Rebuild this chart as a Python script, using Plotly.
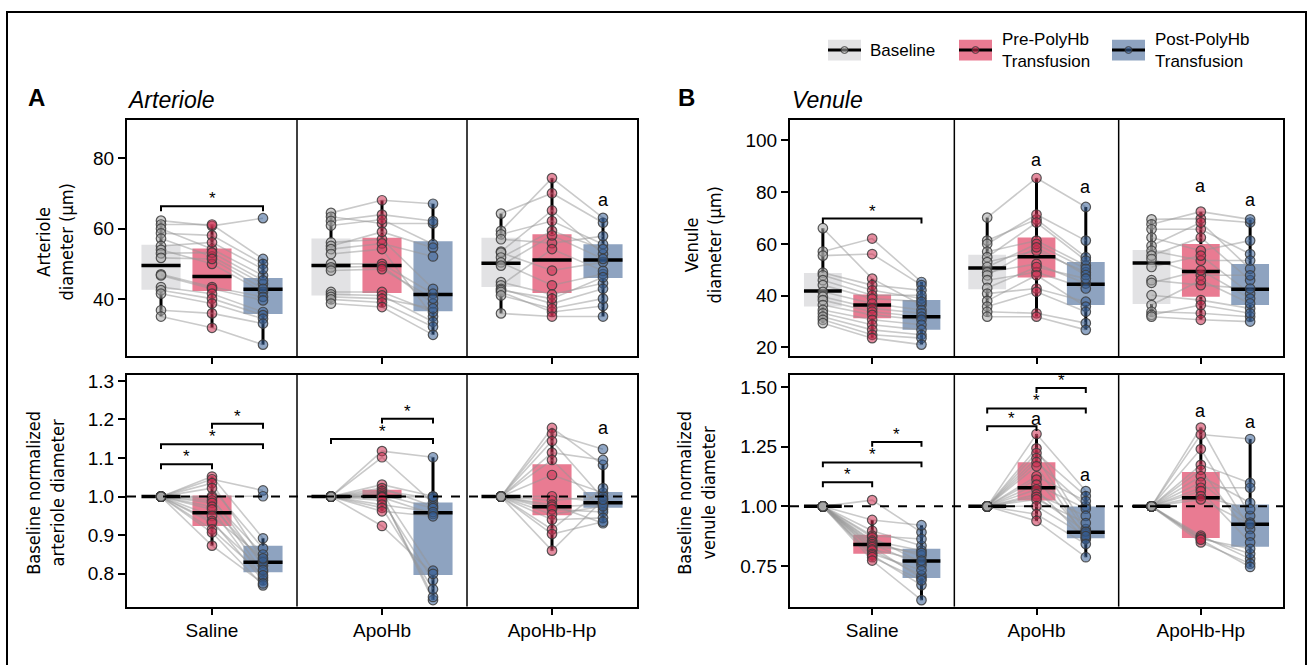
import plotly.graph_objects as go

# ---------------- categories ----------------
GROUPS = ["Saline", "ApoHb", "ApoHb-Hp"]
CONDITIONS = ["Baseline", "Pre-PolyHb<br>Transfusion", "Post-PolyHb<br>Transfusion"]

# ---------------- Arteriole diameter (um) ----------------
ART_SAL_BASE = [62.3, 61.2, 60.0, 58.7, 57.2, 55.1, 54.0, 53.0, 51.7, 47.0, 46.7, 43.4, 42.5, 41.5, 36.8, 35.0]
ART_SAL_PRE = [60.8, 61.2, 54.2, 58.1, 52.1, 56.1, 50.0, 53.2, 51.4, 43.4, 42.9, 41.5, 40.1, 38.7, 35.9, 31.8]
ART_SAL_POST = [63.0, 51.4, 46.7, 50.0, 44.3, 48.5, 42.0, 45.3, 42.9, 40.6, 39.6, 36.3, 35.4, 34.4, 33.0, 27.0]
ART_APO_BASE = [64.5, 63.4, 62.2, 60.9, 56.1, 55.1, 54.2, 52.8, 50.0, 49.0, 48.1, 42.0, 41.3, 40.6, 39.9, 38.7]
ART_APO_PRE = [68.1, 61.5, 64.0, 62.6, 57.0, 59.1, 55.8, 54.2, 50.0, 49.3, 48.5, 42.0, 41.0, 40.1, 39.0, 37.7]
ART_APO_POST = [67.1, 61.5, 62.2, 55.6, 42.9, 54.6, 52.1, 35.0, 41.5, 38.7, 40.1, 36.3, 33.5, 37.3, 32.1, 29.8]
ART_HP_BASE = [64.3, 59.4, 58.4, 57.0, 53.5, 53.2, 51.8, 50.4, 49.5, 44.8, 43.9, 42.9, 42.5, 42.0, 41.0, 35.9]
ART_HP_PRE = [70.1, 74.4, 62.2, 55.9, 65.2, 48.1, 59.4, 43.9, 58.1, 41.3, 54.2, 38.7, 40.1, 36.3, 37.3, 35.0]
ART_HP_POST = [61.7, 63.1, 55.6, 57.9, 52.8, 50.5, 54.2, 47.1, 51.4, 44.5, 48.0, 42.9, 46.2, 38.0, 40.1, 35.0]

# ---------------- Venule diameter (um) ----------------
VEN_SAL_BASE = [66.1, 57.1, 55.5, 48.9, 47.9, 46.0, 44.1, 41.5, 39.6, 38.3, 36.4, 34.5, 33.2, 31.9, 30.7, 29.4]
VEN_SAL_PRE = [46.6, 62.1, 56.1, 44.1, 42.1, 40.2, 38.9, 37.0, 35.1, 33.8, 32.6, 30.7, 28.8, 26.8, 24.9, 23.6]
VEN_SAL_POST = [36.4, 45.3, 44.1, 42.1, 38.9, 40.2, 37.7, 34.5, 33.2, 31.9, 30.7, 28.8, 26.8, 24.9, 23.6, 21.1]
VEN_APO_BASE = [70.2, 61.3, 60.0, 57.0, 54.9, 53.0, 51.1, 49.1, 47.9, 46.0, 43.0, 40.8, 38.0, 35.8, 33.8, 31.9]
VEN_APO_PRE = [85.5, 69.5, 71.4, 61.3, 68.3, 57.4, 60.0, 52.3, 58.7, 49.1, 51.1, 42.8, 47.9, 41.5, 33.2, 31.9]
VEN_APO_POST = [74.3, 54.9, 61.3, 51.7, 53.6, 49.1, 50.4, 44.7, 48.0, 42.8, 46.6, 37.7, 35.8, 33.8, 29.4, 26.8]
VEN_HP_BASE = [69.5, 67.6, 65.7, 62.5, 59.3, 57.4, 55.5, 54.2, 51.1, 46.0, 45.0, 40.2, 36.4, 33.8, 32.6, 31.9]
VEN_HP_PRE = [69.8, 72.5, 65.7, 57.4, 68.3, 53.6, 62.5, 47.9, 55.5, 44.1, 49.8, 38.3, 46.0, 33.2, 36.4, 30.7]
VEN_HP_POST = [68.3, 69.5, 56.1, 61.3, 50.4, 53.6, 46.0, 47.9, 40.8, 42.8, 38.9, 35.1, 37.0, 31.9, 33.2, 30.0]

# ---------------- Baseline-normalized arteriole diameter ----------------
ART_N_BASE = [1.0, 1.0, 1.0, 1.0, 1.0, 1.0, 1.0, 1.0, 1.0, 1.0, 1.0, 1.0, 1.0, 1.0, 1.0, 1.0]
ART_N_SAL_PRE = [1.052, 1.045, 1.035, 1.022, 1.001, 0.997, 0.990, 0.984, 0.974, 0.967, 0.950, 0.937, 0.932, 0.915, 0.907, 0.873]
ART_N_SAL_POST = [0.892, 1.016, 0.834, 0.866, 1.001, 0.821, 0.850, 0.804, 0.830, 0.790, 0.840, 0.783, 0.810, 0.796, 0.770, 0.775]
ART_N_APO_PRE = [1.118, 1.102, 1.031, 1.022, 1.015, 1.010, 1.005, 1.001, 1.000, 1.000, 0.998, 0.990, 0.979, 0.971, 0.962, 0.924]
ART_N_APO_POST = [1.102, 0.984, 1.001, 0.975, 0.995, 0.808, 0.970, 0.732, 1.000, 0.740, 0.955, 0.783, 0.960, 0.760, 0.949, 0.800]
ART_N_HP_PRE = [1.178, 1.163, 1.144, 1.114, 1.095, 1.056, 1.001, 0.990, 0.979, 0.974, 0.967, 0.954, 0.940, 0.915, 0.903, 0.860]
ART_N_HP_POST = [1.082, 1.123, 0.995, 1.095, 0.967, 1.010, 0.985, 1.001, 0.931, 0.979, 0.960, 0.975, 0.945, 1.022, 0.935, 0.992]

# ---------------- Baseline-normalized venule diameter ----------------
VEN_N_BASE = [1.0, 1.0, 1.0, 1.0, 1.0, 1.0, 1.0, 1.0, 1.0, 1.0, 1.0, 1.0, 1.0, 1.0, 1.0, 1.0]
VEN_N_SAL_PRE = [1.026, 0.943, 0.898, 0.877, 0.870, 0.856, 0.850, 0.842, 0.835, 0.829, 0.820, 0.815, 0.801, 0.795, 0.787, 0.773]
VEN_N_SAL_POST = [0.891, 0.921, 0.835, 0.863, 0.765, 0.815, 0.794, 0.752, 0.805, 0.700, 0.773, 0.711, 0.732, 0.670, 0.690, 0.607]
VEN_N_APO_PRE = [1.303, 1.243, 1.223, 1.202, 1.185, 1.168, 1.126, 1.112, 1.091, 1.071, 1.050, 1.040, 1.029, 1.001, 0.967, 0.939]
VEN_N_APO_POST = [1.064, 0.905, 1.043, 0.891, 1.001, 0.866, 1.022, 0.884, 0.990, 0.863, 0.960, 0.895, 0.930, 0.875, 0.842, 0.787]
VEN_N_HP_PRE = [1.330, 1.301, 1.240, 1.174, 1.153, 1.126, 1.100, 1.078, 1.064, 1.043, 1.029, 0.877, 0.870, 0.863, 0.849, 0.860]
VEN_N_HP_POST = [0.960, 1.282, 0.905, 1.098, 0.877, 1.015, 0.932, 1.078, 0.849, 0.988, 0.925, 0.780, 0.801, 0.822, 0.760, 0.746]

# ---------------- box statistics (order: Sal B/Pre/Post, ApoHb B/Pre/Post, ApoHb-Hp B/Pre/Post) ----------------
ART_ABS_Q1 = [42.6, 42.3, 35.7, 41.0, 41.7, 36.5, 43.4, 41.7, 46.0]
ART_ABS_MED = [49.5, 46.4, 42.8, 49.5, 49.5, 41.3, 50.2, 51.1, 51.1]
ART_ABS_Q3 = [55.4, 54.4, 46.0, 57.2, 57.4, 56.4, 57.4, 58.4, 55.6]
ART_ABS_WLO = [35.0, 31.8, 27.0, 38.7, 37.7, 29.8, 35.9, 35.0, 35.0]
ART_ABS_WHI = [62.3, 61.2, 51.4, 64.5, 68.1, 67.1, 64.3, 74.4, 63.1]

VEN_ABS_Q1 = [35.8, 31.3, 26.8, 42.5, 47.0, 36.4, 36.8, 39.6, 36.4]
VEN_ABS_MED = [41.8, 36.4, 31.9, 50.7, 55.1, 44.4, 52.6, 49.4, 42.5]
VEN_ABS_Q3 = [48.8, 40.5, 38.3, 55.8, 62.5, 53.0, 57.7, 60.0, 52.3]
VEN_ABS_WLO = [29.4, 23.6, 21.1, 31.9, 31.9, 26.8, 31.9, 30.7, 30.0]
VEN_ABS_WHI = [66.1, 46.6, 45.3, 70.2, 85.5, 74.3, 69.5, 72.5, 69.5]

ART_NORM_Q1 = [1.0, 0.924, 0.804, 1.0, 1.0, 0.797, 1.0, 0.952, 0.971]
ART_NORM_MED = [1.0, 0.958, 0.830, 1.0, 1.0, 0.958, 1.0, 0.974, 0.984]
ART_NORM_Q3 = [1.0, 1.003, 0.873, 1.0, 1.018, 0.985, 1.0, 1.084, 1.012]
ART_NORM_WLO = [1.0, 0.873, 0.770, 1.0, 0.962, 0.732, 1.0, 0.860, 0.931]
ART_NORM_WHI = [1.0, 1.052, 0.892, 1.0, 1.031, 1.102, 1.0, 1.178, 1.082]

VEN_NORM_Q1 = [1.0, 0.801, 0.700, 1.0, 1.025, 0.866, 1.0, 0.867, 0.831]
VEN_NORM_MED = [1.0, 0.840, 0.771, 1.0, 1.078, 0.891, 1.0, 1.036, 0.925]
VEN_NORM_Q3 = [1.0, 0.881, 0.822, 1.0, 1.185, 0.999, 1.0, 1.144, 1.008]
VEN_NORM_WLO = [1.0, 0.773, 0.607, 1.0, 0.939, 0.787, 1.0, 0.849, 0.746]
VEN_NORM_WHI = [1.0, 0.943, 0.921, 1.0, 1.303, 1.064, 1.0, 1.330, 1.282]

# ---------------- significance marks: (group, from condition, to condition, y) ----------------
ART_ABS_BRACKETS = [(0, 0, 2, 66.4)]
VEN_ABS_BRACKETS = [(0, 0, 2, 69.8)]
ART_NORM_BRACKETS = [(0, 0, 1, 1.084), (0, 0, 2, 1.136), (0, 1, 2, 1.189), (1, 0, 2, 1.149), (1, 1, 2, 1.202)]
VEN_NORM_BRACKETS = [(0, 0, 1, 1.101), (0, 0, 2, 1.184), (0, 1, 2, 1.270),
                     (1, 0, 1, 1.336), (1, 0, 2, 1.410), (1, 1, 2, 1.496)]
# letter "a": (group, condition, y)
ART_ABS_LETTERS = [(2, 2, 68.2)]
VEN_ABS_LETTERS = [(1, 1, 92.5), (1, 2, 82.0), (2, 1, 82.3), (2, 2, 77.0)]
ART_NORM_LETTERS = [(2, 2, 1.178)]
VEN_NORM_LETTERS = [(1, 1, 1.368), (1, 2, 1.133), (2, 1, 1.400), (2, 2, 1.354)]

# ---------------- axes ----------------
ART_ABS_RANGE = [23.7, 91.0]
ART_NORM_RANGE = [0.715, 1.315]
VEN_ABS_RANGE = [16.6, 108.0]
VEN_NORM_RANGE = [0.58, 1.55]
ART_ABS_TICKS = [40, 60, 80]
ART_NORM_TICKS = [0.8, 0.9, 1.0, 1.1, 1.2, 1.3]
VEN_ABS_TICKS = [20, 40, 60, 80, 100]
VEN_NORM_TICKS = [0.75, 1.00, 1.25, 1.50]

# ---------------- style ----------------
W, H = 1310, 665
BOX_FILL = ["#e2e2e4", "#e97b92", "#8ea3c0"]
PT_FILL = ["rgba(165,165,165,0.55)", "rgba(205,45,80,0.55)", "rgba(55,95,150,0.55)"]
PT_EDGE = "rgba(60,60,60,0.85)"
OFFSETS = [-0.3, 0.0, 0.3]
BOX_W = 0.23
FONT = "Liberation Sans, Arial, Helvetica, sans-serif"
NARROW = "DejaVu Sans Condensed, Liberation Sans Narrow, Arial Narrow, Liberation Sans, sans-serif"

A_X = [127, 637]
B_X = [790, 1283]
TOP_Y = [116, 355]
BOT_Y = [374, 608]


def px(x):
    return x / W


def py(y):
    return 1 - y / H


panels = [
    dict(xa="x", ya="y", xd=A_X, yd=TOP_Y, rng=ART_ABS_RANGE, ticks=ART_ABS_TICKS, fmt="{:.0f}",
         data=[[ART_SAL_BASE, ART_SAL_PRE, ART_SAL_POST], [ART_APO_BASE, ART_APO_PRE, ART_APO_POST],
               [ART_HP_BASE, ART_HP_PRE, ART_HP_POST]],
         q1=ART_ABS_Q1, med=ART_ABS_MED, q3=ART_ABS_Q3, wlo=ART_ABS_WLO, whi=ART_ABS_WHI,
         br=ART_ABS_BRACKETS, let=ART_ABS_LETTERS, labels=False, dashed=False),
    dict(xa="x2", ya="y2", xd=A_X, yd=BOT_Y, rng=ART_NORM_RANGE, ticks=ART_NORM_TICKS, fmt="{:.1f}",
         data=[[ART_N_BASE, ART_N_SAL_PRE, ART_N_SAL_POST], [ART_N_BASE, ART_N_APO_PRE, ART_N_APO_POST],
               [ART_N_BASE, ART_N_HP_PRE, ART_N_HP_POST]],
         q1=ART_NORM_Q1, med=ART_NORM_MED, q3=ART_NORM_Q3, wlo=ART_NORM_WLO, whi=ART_NORM_WHI,
         br=ART_NORM_BRACKETS, let=ART_NORM_LETTERS, labels=True, dashed=True),
    dict(xa="x3", ya="y3", xd=B_X, yd=TOP_Y, rng=VEN_ABS_RANGE, ticks=VEN_ABS_TICKS, fmt="{:.0f}",
         data=[[VEN_SAL_BASE, VEN_SAL_PRE, VEN_SAL_POST], [VEN_APO_BASE, VEN_APO_PRE, VEN_APO_POST],
               [VEN_HP_BASE, VEN_HP_PRE, VEN_HP_POST]],
         q1=VEN_ABS_Q1, med=VEN_ABS_MED, q3=VEN_ABS_Q3, wlo=VEN_ABS_WLO, whi=VEN_ABS_WHI,
         br=VEN_ABS_BRACKETS, let=VEN_ABS_LETTERS, labels=False, dashed=False),
    dict(xa="x4", ya="y4", xd=B_X, yd=BOT_Y, rng=VEN_NORM_RANGE, ticks=VEN_NORM_TICKS, fmt="{:.2f}",
         data=[[VEN_N_BASE, VEN_N_SAL_PRE, VEN_N_SAL_POST], [VEN_N_BASE, VEN_N_APO_PRE, VEN_N_APO_POST],
               [VEN_N_BASE, VEN_N_HP_PRE, VEN_N_HP_POST]],
         q1=VEN_NORM_Q1, med=VEN_NORM_MED, q3=VEN_NORM_Q3, wlo=VEN_NORM_WLO, whi=VEN_NORM_WHI,
         br=VEN_NORM_BRACKETS, let=VEN_NORM_LETTERS, labels=True, dashed=True),
]

fig = go.Figure()
shapes = []
annotations = []


def pos(g, c):
    return g + 1 + OFFSETS[c]


# boxes (bars) first so that every scatter layer is drawn above them
for p in panels:
    xs, hs, bs, cs = [], [], [], []
    for g in range(3):
        for c in range(3):
            k = g * 3 + c
            xs.append(pos(g, c))
            hs.append(p["q3"][k] - p["q1"][k])
            bs.append(p["q1"][k])
            cs.append(BOX_FILL[c])
    fig.add_trace(go.Bar(x=xs, y=hs, base=bs, width=BOX_W, marker=dict(color=cs, line=dict(width=0)),
                         xaxis=p["xa"], yaxis=p["ya"], showlegend=False, hoverinfo="skip"))

for p in panels:
    # whiskers
    wx, wy = [], []
    mx, my = [], []
    for g in range(3):
        for c in range(3):
            k = g * 3 + c
            x = pos(g, c)
            wx += [x, x, None, x, x, None]
            wy += [p["wlo"][k], p["q1"][k], None, p["q3"][k], p["whi"][k], None]
            mx += [x - BOX_W / 2, x + BOX_W / 2, None]
            my += [p["med"][k], p["med"][k], None]
    fig.add_trace(go.Scatter(x=wx, y=wy, mode="lines", line=dict(color="black", width=3),
                             xaxis=p["xa"], yaxis=p["ya"], showlegend=False, hoverinfo="skip"))
    # subject lines
    for g in range(3):
        lx, ly = [], []
        base, pre, post = p["data"][g]
        for i in range(len(base)):
            lx += [pos(g, 0), pos(g, 1), pos(g, 2), None]
            ly += [base[i], pre[i], post[i], None]
        fig.add_trace(go.Scatter(x=lx, y=ly, mode="lines", line=dict(color="rgba(150,150,150,0.5)", width=1.6),
                                 xaxis=p["xa"], yaxis=p["ya"], showlegend=False, hoverinfo="skip"))
    # medians
    fig.add_trace(go.Scatter(x=mx, y=my, mode="lines", line=dict(color="black", width=3.5),
                             xaxis=p["xa"], yaxis=p["ya"], showlegend=False, hoverinfo="skip"))
    # points
    for c in range(3):
        px_, py_ = [], []
        for g in range(3):
            vals = p["data"][g][c]
            px_ += [pos(g, c)] * len(vals)
            py_ += vals
        fig.add_trace(go.Scatter(x=px_, y=py_, mode="markers",
                                 marker=dict(size=9.5, color=PT_FILL[c], line=dict(color=PT_EDGE, width=1.2)),
                                 xaxis=p["xa"], yaxis=p["ya"], showlegend=False, hoverinfo="skip"))
    # significance brackets
    span = p["rng"][1] - p["rng"][0]
    drop = 5 * span / (p["yd"][1] - p["yd"][0])
    bx, by = [], []
    for (g, c0, c1, yv) in p["br"]:
        x0, x1 = pos(g, c0), pos(g, c1)
        bx += [x0, x0, x1, x1, None]
        by += [yv - drop, yv, yv, yv - drop, None]
        annotations.append(dict(x=(x0 + x1) / 2, y=yv, xref=p["xa"], yref=p["ya"], text="*", showarrow=False,
                                xanchor="center", yanchor="bottom", yshift=-4,
                                font=dict(family=FONT, size=17, color="black")))
    fig.add_trace(go.Scatter(x=bx, y=by, mode="lines", line=dict(color="black", width=2),
                             xaxis=p["xa"], yaxis=p["ya"], showlegend=False, hoverinfo="skip"))
    for (g, c, yv) in p["let"]:
        annotations.append(dict(x=pos(g, c), y=yv, xref=p["xa"], yref=p["ya"], text="a", showarrow=False,
                                xanchor="center", yanchor="middle", font=dict(family=FONT, size=18, color="black")))
    # facet dividers
    for xv in [1.5, 2.5]:
        shapes.append(dict(type="line", xref=p["xa"], yref=p["ya"] + " domain", x0=xv, x1=xv, y0=0, y1=1,
                           line=dict(color="black", width=1.5), layer="above"))
    if p["dashed"]:
        shapes.append(dict(type="line", xref=p["xa"] + " domain", yref=p["ya"], x0=0, x1=1, y0=1.0, y1=1.0,
                           line=dict(color="black", width=2, dash="dash"), layer="above"))

# axes
layout_axes = {}
for p in panels:
    xname = "xaxis" + p["xa"][1:]
    yname = "yaxis" + p["ya"][1:]
    layout_axes[xname] = dict(domain=[px(p["xd"][0]), px(p["xd"][1])], range=[0.5, 3.5], anchor=p["ya"],
                              tickvals=[1, 2, 3], ticktext=GROUPS, showticklabels=p["labels"],
                              ticks="outside", ticklen=6, tickwidth=1.5, tickcolor="black",
                              showline=True, mirror=True, linewidth=2, linecolor="black",
                              showgrid=False, zeroline=False, fixedrange=True,
                              tickfont=dict(family=FONT, size=19, color="black"))
    layout_axes[yname] = dict(domain=[py(p["yd"][1]), py(p["yd"][0])], range=p["rng"], anchor=p["xa"],
                              tickvals=p["ticks"], ticktext=[p["fmt"].format(t) for t in p["ticks"]],
                              ticks="outside", ticklen=7, tickwidth=1.5, tickcolor="black",
                              showline=True, mirror=True, linewidth=2, linecolor="black",
                              showgrid=False, zeroline=False, fixedrange=True,
                              tickfont=dict(family=FONT, size=19, color="black"))

# axis titles
for text, x, y in [("Arteriole<br>diameter (μm)", 55, 240),
                   ("Baseline normalized<br>arteriole diameter", 45, 493),
                   ("Venule<br>diameter (μm)", 703, 243),
                   ("Baseline normalized<br>venule diameter", 696, 493)]:
    annotations.append(dict(x=px(x), y=py(y), xref="paper", yref="paper", text=text, textangle=-90,
                            showarrow=False, xanchor="center", yanchor="middle",
                            font=dict(family=NARROW, size=18, color="black")))

# panel labels and titles
annotations += [
    dict(x=px(36), y=py(93), xref="paper", yref="paper", text="<b>A</b>", showarrow=False,
         xanchor="center", yanchor="middle", font=dict(family=FONT, size=24, color="black")),
    dict(x=px(686), y=py(93), xref="paper", yref="paper", text="<b>B</b>", showarrow=False,
         xanchor="center", yanchor="middle", font=dict(family=FONT, size=24, color="black")),
    dict(x=px(125), y=py(96), xref="paper", yref="paper", text="<i>Arteriole</i>", showarrow=False,
         xanchor="left", yanchor="middle", font=dict(family=FONT, size=23, color="black")),
    dict(x=px(790), y=py(96), xref="paper", yref="paper", text="<i>Venule</i>", showarrow=False,
         xanchor="left", yanchor="middle", font=dict(family=FONT, size=23, color="black")),
]

# legend (drawn manually: patch + median line + marker)
LEG_X = [828, 959, 1112]
LEG_TEXT_X = [868, 1000, 1153]
for c in range(3):
    x0 = LEG_X[c]
    shapes.append(dict(type="rect", xref="paper", yref="paper", x0=px(x0), x1=px(x0 + 33), y0=py(56), y1=py(35),
                       fillcolor=BOX_FILL[c], line=dict(width=0)))
    shapes.append(dict(type="line", xref="paper", yref="paper", x0=px(x0), x1=px(x0 + 33), y0=py(45.5),
                       y1=py(45.5), line=dict(color="black", width=3)))
    shapes.append(dict(type="circle", xref="paper", yref="paper", x0=px(x0 + 13), x1=px(x0 + 20),
                       y0=py(49), y1=py(42), fillcolor=PT_FILL[c], line=dict(color=PT_EDGE, width=1)))
    annotations.append(dict(x=px(LEG_TEXT_X[c]), y=py(46), xref="paper", yref="paper", text=CONDITIONS[c],
                            showarrow=False, xanchor="left", yanchor="middle", align="left",
                            font=dict(family=FONT, size=17, color="black")))

# outer frame
shapes.append(dict(type="rect", xref="paper", yref="paper", x0=px(7), x1=px(1306), y0=-0.02, y1=py(7),
                   line=dict(color="black", width=2), fillcolor="rgba(0,0,0,0)"))

fig.update_layout(width=W, height=H, margin=dict(l=0, r=0, t=0, b=0), paper_bgcolor="white",
                  plot_bgcolor="white", barmode="overlay", showlegend=False, shapes=shapes,
                  annotations=annotations, **layout_axes)

fig.write_html("out.html")
